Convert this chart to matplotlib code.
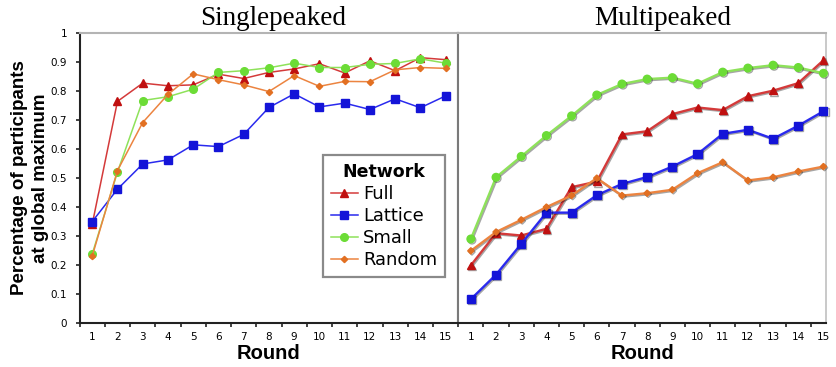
import matplotlib
matplotlib.use("Agg")
import matplotlib.pyplot as plt
import matplotlib.patheffects as pe
from matplotlib.ticker import FixedLocator

rounds = list(range(1, 16))

# Singlepeaked landscape
single_full = [0.34, 0.764, 0.827, 0.818, 0.821, 0.858, 0.843, 0.864, 0.876,
               0.894, 0.862, 0.904, 0.870, 0.915, 0.908]
single_lattice = [0.349, 0.461, 0.548, 0.562, 0.614, 0.608, 0.650, 0.743, 0.790,
                  0.745, 0.758, 0.736, 0.773, 0.742, 0.783]
single_small = [0.237, 0.520, 0.767, 0.780, 0.806, 0.864, 0.870, 0.880, 0.896,
                0.881, 0.881, 0.892, 0.895, 0.911, 0.896]
single_random = [0.230, 0.525, 0.691, 0.788, 0.859, 0.839, 0.821, 0.798, 0.853,
                 0.816, 0.833, 0.832, 0.873, 0.881, 0.878]

# Multipeaked landscape
multi_full = [0.198, 0.309, 0.301, 0.324, 0.468, 0.487, 0.650, 0.661, 0.720,
              0.743, 0.734, 0.782, 0.801, 0.827, 0.906]
multi_lattice = [0.081, 0.166, 0.272, 0.380, 0.380, 0.440, 0.479, 0.503, 0.539,
                 0.582, 0.652, 0.666, 0.635, 0.680, 0.730]
multi_small = [0.289, 0.502, 0.574, 0.646, 0.714, 0.786, 0.824, 0.841, 0.846,
               0.825, 0.865, 0.879, 0.889, 0.881, 0.861]
multi_random = [0.248, 0.313, 0.355, 0.399, 0.439, 0.499, 0.439, 0.447, 0.459,
                0.516, 0.554, 0.491, 0.502, 0.522, 0.539]

network_names = ["Full", "Lattice", "Small", "Random"]
y_ticks = [0, 0.1, 0.2, 0.3, 0.4, 0.5, 0.6, 0.7, 0.8, 0.9, 1]
y_tick_labels = ["0", "0.1", "0.2", "0.3", "0.4", "0.5", "0.6", "0.7", "0.8", "0.9", "1"]

styles = {
    "Full":    dict(line="#D43A3A", mark="#C01010", marker="^", ms=5.5),
    "Lattice": dict(line="#2A2AEE", mark="#1414D8", marker="s", ms=5.8),
    "Small":   dict(line="#8EE25A", mark="#6CDC36", marker="o", ms=5.5),
    "Random":  dict(line="#EC8440", mark="#E27022", marker="D", ms=3.2),
}

fig = plt.figure(figsize=(8.37, 3.67), dpi=100)
ax1 = fig.add_axes([0.0951, 0.1207, 0.4524, 0.7893])
ax2 = fig.add_axes([0.5475, 0.1207, 0.4393, 0.7893])

tick_font = dict(family="DejaVu Sans", size=7.5)


def draw_panel(ax, series, xmax, lw, shadow):
    for name, vals in zip(network_names, series):
        st = styles[name]
        effects = None
        if shadow:
            effects = [pe.SimpleLineShadow(offset=(0.8, -0.8), shadow_color="#000000",
                                           alpha=0.35), pe.Normal()]
        ax.plot(rounds, vals, color=st["line"], lw=lw, marker=st["marker"],
                ms=st["ms"], mfc=st["mark"], mec=st["mark"], label=name,
                path_effects=effects, clip_on=False, zorder=3)
    ax.set_xlim(0.5, xmax)
    ax.set_ylim(0, 1)
    ax.xaxis.set_major_locator(FixedLocator(rounds))
    ax.xaxis.set_minor_locator(FixedLocator([r + 0.5 for r in range(0, 15)]))
    ax.set_xticklabels([str(r) for r in rounds], **tick_font)
    ax.tick_params(axis="x", which="major", length=0, pad=7)
    ax.tick_params(axis="x", which="minor", length=3, width=1.2, direction="out",
                   color="#222222")
    ax.set_xlabel("Round", family="Liberation Sans", weight="bold", size=14.5,
                  labelpad=1)
    ax.spines["bottom"].set_color("#222222")
    ax.spines["bottom"].set_linewidth(1.5)
    ax.spines["top"].set_color("#b4b4b4")
    ax.spines["top"].set_linewidth(1.5)


draw_panel(ax1, [single_full, single_lattice, single_small, single_random],
           15.5, 1.1, False)
draw_panel(ax2, [multi_full, multi_lattice, multi_small, multi_random],
           15.1, 1.7, True)

ax1.set_yticks(y_ticks)
ax1.set_yticklabels(y_tick_labels, **tick_font)
ax1.tick_params(axis="y", length=3, width=1.2, direction="out", color="#222222",
                pad=6)
ax1.spines["left"].set_color("#222222")
ax1.spines["left"].set_linewidth(1.5)
ax1.spines["right"].set_color("#7a7a7a")
ax1.spines["right"].set_linewidth(1.5)
ax1.set_ylabel("Percentage of participants\nat global maximum",
               family="Liberation Sans", weight="bold", size=13.5, labelpad=1,
               linespacing=1.35)

ax2.set_yticks([])
ax2.spines["left"].set_color("#7a7a7a")
ax2.spines["left"].set_linewidth(1.5)
ax2.spines["right"].set_color("#c0c0c0")
ax2.spines["right"].set_linewidth(1.2)

t1 = ax1.set_title("Singlepeaked", family="Liberation Serif", size=19.5, pad=6)
t1.set_x(0.512)
t2 = ax2.set_title("Multipeaked", family="Liberation Serif", size=19.5, pad=6)
t2.set_x(0.555)

leg = ax1.legend(loc="lower right", bbox_to_anchor=(0.966, 0.158),
                 borderaxespad=0, title="Network", fancybox=False, framealpha=1,
                 edgecolor="#8a8a8a", handlelength=1.5, handletextpad=0.3,
                 labelspacing=0.22, borderpad=0.45,
                 prop=dict(family="DejaVu Sans", size=12.9))
leg.get_frame().set_linewidth(1.6)
leg.get_title().set_fontproperties(dict(family="DejaVu Sans", weight="bold", size=12.5))
leg.set_zorder(10)

fig.savefig("out.png", dpi=100)
